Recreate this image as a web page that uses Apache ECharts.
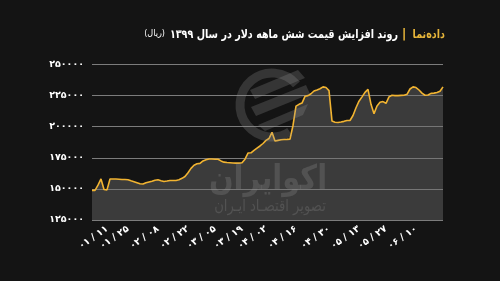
<!DOCTYPE html>
<html>
<head>
<meta charset="utf-8">
<script src="https://cdn.jsdelivr.net/npm/echarts@6/dist/echarts.min.js"></script>
<style>
html,body{margin:0;padding:0;background:#141414;}
#c{width:500px;height:281px;}
</style>
</head>
<body>
<div id="c"></div>
<script>
// Dollar price (rial), trading-day samples
const values = [
  148800,148800,153000,158000,149500,149200,158000,158000,158000,157800,
  157600,157500,157300,156500,155800,155000,154200,154000,155000,155600,
  156200,157000,157300,156600,156000,156300,156700,156700,156800,157300,
  158500,160000,163000,166500,169000,170200,170500,172500,173500,174000,
  174000,173800,173800,172500,171500,171200,171000,170800,170700,170700,
  171000,173900,178800,179000,181000,182800,184500,186500,189000,190500,
  195500,188500,189000,189500,189700,189800,190000,201000,216500,218000,
  219000,224400,225000,226500,228700,229500,230500,232000,231500,229000,
  204500,203600,203400,203800,204300,205000,205000,209000,215200,220500,
  224000,227600,230000,218000,210500,216600,219600,220200,218800,224000,
  225300,225000,225000,225200,225300,226000,230300,232000,231500,229500,
  227000,225300,225500,226800,227000,227500,228500,232000
];
// x-axis date labels (month / day, 1399) and the sample index they sit on
const tickLabels = ['۰۱ / ۱۱','۰۱ / ۲۵','۰۲ / ۰۸','۰۲ / ۲۲','۰۳ / ۰۵','۰۳ / ۱۹','۰۴ / ۰۲','۰۴ / ۱۶','۰۴ / ۳۰','۰۵ / ۱۳','۰۵ / ۲۷','۰۶ / ۱۰'];
const tickIndex  = [5, 12, 22, 32, 41, 50, 58, 68, 79, 89, 98, 108];

const categories = values.map((v, i) => i);
const labelMap = {};
tickIndex.forEach((ix, k) => { labelMap[ix] = tickLabels[k]; });
const fa = s => String(s).replace(/\d/g, d => '۰۱۲۳۴۵۶۷۸۹'[d]);

const FONT = 'DejaVu Sans';
const chart = echarts.init(document.getElementById('c'), null, {renderer: 'canvas'});
const wm = 'rgba(150,150,150,0.25)';
chart.setOption({
  backgroundColor: '#141414',
  animation: false,
  grid: {left: 92, right: 57, top: 64.5, bottom: 61},
  xAxis: {
    type: 'category',
    data: categories,
    boundaryGap: false,
    axisLine: {show: false},
    axisTick: {show: false},
    splitLine: {show: false},
    axisLabel: {
      interval: 0,
      rotate: 35,
      margin: 8,
      color: '#ffffff',
      fontFamily: FONT,
      fontWeight: 'bold',
      fontSize: 9.5,
      formatter: (val, idx) => labelMap[idx] || ''
    }
  },
  yAxis: {
    type: 'value',
    min: 125000,
    max: 250000,
    interval: 25000,
    axisLine: {show: false},
    axisTick: {show: false},
    splitLine: {lineStyle: {color: '#7c7c7c', width: 1}},
    axisLabel: {
      margin: 8,
      color: '#ffffff',
      fontFamily: FONT,
      fontWeight: 'bold',
      fontSize: 9.5,
      formatter: v => fa(v)
    }
  },
  series: [{
    type: 'line',
    data: values,
    symbol: 'none',
    lineStyle: {color: '#f2b431', width: 1.6},
    areaStyle: {color: 'rgba(110,110,110,0.62)', origin: 'start'},
    z: 2
  }],
  graphic: [
    // watermark logo
    {type: 'arc', z: 10, silent: true,
     shape: {cx: 272, cy: 105, r: 32, startAngle: -0.7, endAngle: -5.3, clockwise: false},
     style: {stroke: wm, fill: null, lineWidth: 9}},
    {type: 'polygon', z: 10, silent: true,
     shape: {points: [[250,90],[298,70],[305,78],[255,99]]}, style: {fill: wm}},
    {type: 'polygon', z: 10, silent: true,
     shape: {points: [[251,107],[306,85],[310,94],[256,116]]}, style: {fill: wm}},
    {type: 'polygon', z: 10, silent: true,
     shape: {points: [[258,125],[308,104],[303,115],[265,131]]}, style: {fill: wm}},
    // watermark text
    {type: 'text', z: 10, silent: true, scaleX: 0.85, originX: 268, originY: 180,
     style: {text: 'اکوایران', x: 268, y: 180, align: 'center', verticalAlign: 'middle',
       font: 'bold 34px ' + FONT, fill: wm}},
    {type: 'text', z: 10, silent: true, scaleX: 0.82, originX: 270, originY: 207,
     style: {text: 'تصویر اقتصـاد ایـران', x: 270, y: 207, align: 'center', verticalAlign: 'middle',
       font: '16px ' + FONT, fill: wm}},
    // title
    {type: 'text', z: 20, scaleX: 0.8, originX: 445, originY: 35,
     style: {text: 'داده‌نما', x: 445, y: 35, align: 'right', verticalAlign: 'middle',
      font: 'bold 12px ' + FONT, fill: '#e7b53a'}},
    {type: 'text', z: 20, style: {text: '|', x: 404, y: 35, align: 'center', verticalAlign: 'middle',
      font: 'bold 13px ' + FONT, fill: '#e7b53a'}},
    {type: 'text', z: 20, scaleX: 0.8, originX: 398, originY: 35,
     style: {text: 'روند افزایش قیمت شش ماهه دلار در سال ۱۳۹۹', x: 398, y: 35, align: 'right', verticalAlign: 'middle',
      font: 'bold 12px ' + FONT, fill: '#ffffff'}},
    {type: 'text', z: 20, scaleX: 0.9, originX: 165, originY: 34,
     style: {text: '(ریال)', x: 165, y: 34, align: 'right', verticalAlign: 'middle',
      font: '9px ' + FONT, fill: '#ffffff'}}
  ]
});
</script>
</body>
</html>
